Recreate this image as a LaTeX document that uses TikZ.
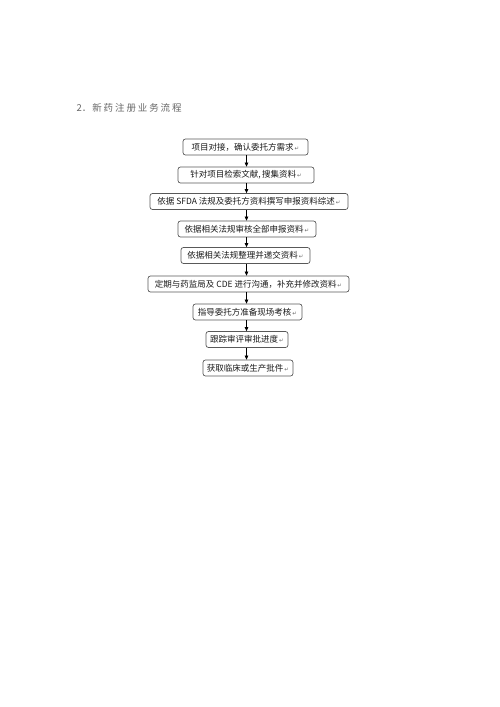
\documentclass[tikz,border=0pt]{standalone}
\usepackage{fontspec}
\setmainfont{Noto Sans CJK SC}
\newfontfamily\symfont{DejaVu Sans}
\usetikzlibrary{arrows.meta}
\newcommand{\parmark}{{\symfont\fontsize{5.5}{5.5}\selectfont\color{black!60}\,↵}}
\newcommand{\tsp}{\hspace{1.9pt}}
\tikzset{
  stepbox/.style={draw=black!65, line width=0.7pt, rounded corners=2.5pt,
    minimum height=16pt, inner sep=0pt, font=\fontsize{8.5}{10}\selectfont,
    text=black!90, anchor=center},
  arr/.style={-{Triangle[length=4pt,width=3.5pt]}, line width=0.6pt, black}
}
\begin{document}
\begin{tikzpicture}[x=1pt,y=-1pt]
\useasboundingbox (0,0) rectangle (500,707);
\node[anchor=west, text=black!60, font=\fontsize{9.5}{11}\selectfont] (title) at (73,107.5)
  {2．\hspace{1pt}新\tsp 药\tsp 注\tsp 册\tsp 业\tsp 务\tsp 流\tsp 程};
\coordinate (ax) at (246.5,0);
\node[stepbox, minimum width=125pt] (b1) at (245.5,147) {项目对接，确认委托方需求\parmark};
\node[stepbox, minimum width=136pt] (b2) at (246,175) {针对项目检索文献,\,搜集资料\parmark};
\node[stepbox, minimum width=198pt] (b3) at (249,201.5) {依据 SFDA 法规及委托方资料撰写申报资料综述\parmark};
\node[stepbox, minimum width=138pt] (b4) at (247,229) {依据相关法规审核全部申报资料\parmark};
\node[stepbox, minimum width=129pt] (b5) at (245.5,255.5) {依据相关法规整理并递交资料\parmark};
\node[stepbox, minimum width=201pt] (b6) at (248.5,284) {定期与药监局及 CDE 进行沟通，补充并修改资料\parmark};
\node[stepbox, minimum width=109pt] (b7) at (247.5,312) {指导委托方准备现场考核\parmark};
\node[stepbox, minimum width=82pt] (b8) at (247,339.5) {跟踪审评审批进度\parmark};
\node[stepbox, minimum width=90pt] (b9) at (248,368) {获取临床或生产批件\parmark};
\foreach \a/\b in {b1/b2,b2/b3,b3/b4,b4/b5,b5/b6,b6/b7,b7/b8,b8/b9}
  \draw[arr] (\a.south -| ax) -- (\b.north -| ax);
\end{tikzpicture}
\end{document}
